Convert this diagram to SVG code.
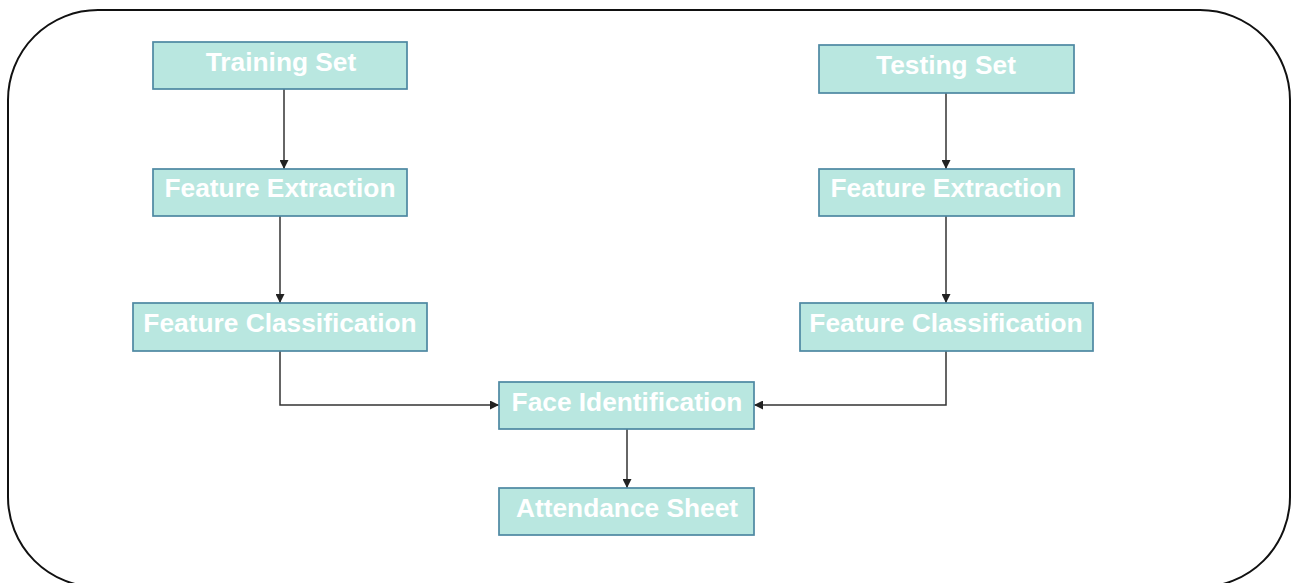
<svg xmlns="http://www.w3.org/2000/svg" width="1292" height="583" viewBox="0 0 1292 583">
  <style>
    .box { fill: #b9e7e0; stroke: #4d88a2; stroke-width: 1.7; }
    .lbl { fill: #ffffff; font-family: "Liberation Sans", Arial, sans-serif; font-weight: bold; font-size: 26.3px; text-anchor: middle; }
    .wire { fill: none; stroke: #333333; stroke-width: 1.5; }
    .frame { fill: #ffffff; stroke: #111111; stroke-width: 2; }
  </style>
  <defs>
    <marker id="arrow" viewBox="0 0 10 10" refX="10" refY="5" markerWidth="9" markerHeight="9" markerUnits="userSpaceOnUse" orient="auto">
      <path d="M0,0 L10,5 L0,10 z" fill="#222222"/>
    </marker>
  </defs>

  <rect width="1292" height="583" fill="#ffffff"/>
  <rect class="frame" x="8" y="10" width="1282" height="577" rx="90" ry="90"/>

  <g id="connectors">
    <path class="wire" d="M284,89 V169" marker-end="url(#arrow)"/>
    <path class="wire" d="M280,216 V303" marker-end="url(#arrow)"/>
    <path class="wire" d="M280,351 V405 H499" marker-end="url(#arrow)"/>
    <path class="wire" d="M946,93 V169" marker-end="url(#arrow)"/>
    <path class="wire" d="M946,216 V303" marker-end="url(#arrow)"/>
    <path class="wire" d="M946,351 V405 H754" marker-end="url(#arrow)"/>
    <path class="wire" d="M627,429 V488" marker-end="url(#arrow)"/>
  </g>

  <g id="training-set">
    <rect class="box" x="153" y="42" width="254" height="47"/>
    <text class="lbl" x="281" y="71">Training Set</text>
  </g>
  <g id="feature-extraction-train">
    <rect class="box" x="153" y="169" width="254" height="47"/>
    <text class="lbl" x="280" y="197">Feature Extraction</text>
  </g>
  <g id="feature-classification-train">
    <rect class="box" x="133" y="303" width="294" height="48"/>
    <text class="lbl" x="280" y="332">Feature Classification</text>
  </g>
  <g id="testing-set">
    <rect class="box" x="819" y="45" width="255" height="48"/>
    <text class="lbl" x="946" y="74">Testing Set</text>
  </g>
  <g id="feature-extraction-test">
    <rect class="box" x="819" y="169" width="255" height="47"/>
    <text class="lbl" x="946" y="197">Feature Extraction</text>
  </g>
  <g id="feature-classification-test">
    <rect class="box" x="800" y="303" width="293" height="48"/>
    <text class="lbl" x="946" y="332">Feature Classification</text>
  </g>
  <g id="face-identification">
    <rect class="box" x="499" y="382" width="255" height="47"/>
    <text class="lbl" x="627" y="411">Face Identification</text>
  </g>
  <g id="attendance-sheet">
    <rect class="box" x="499" y="488" width="255" height="47"/>
    <text class="lbl" x="627" y="517">Attendance Sheet</text>
  </g>
</svg>
